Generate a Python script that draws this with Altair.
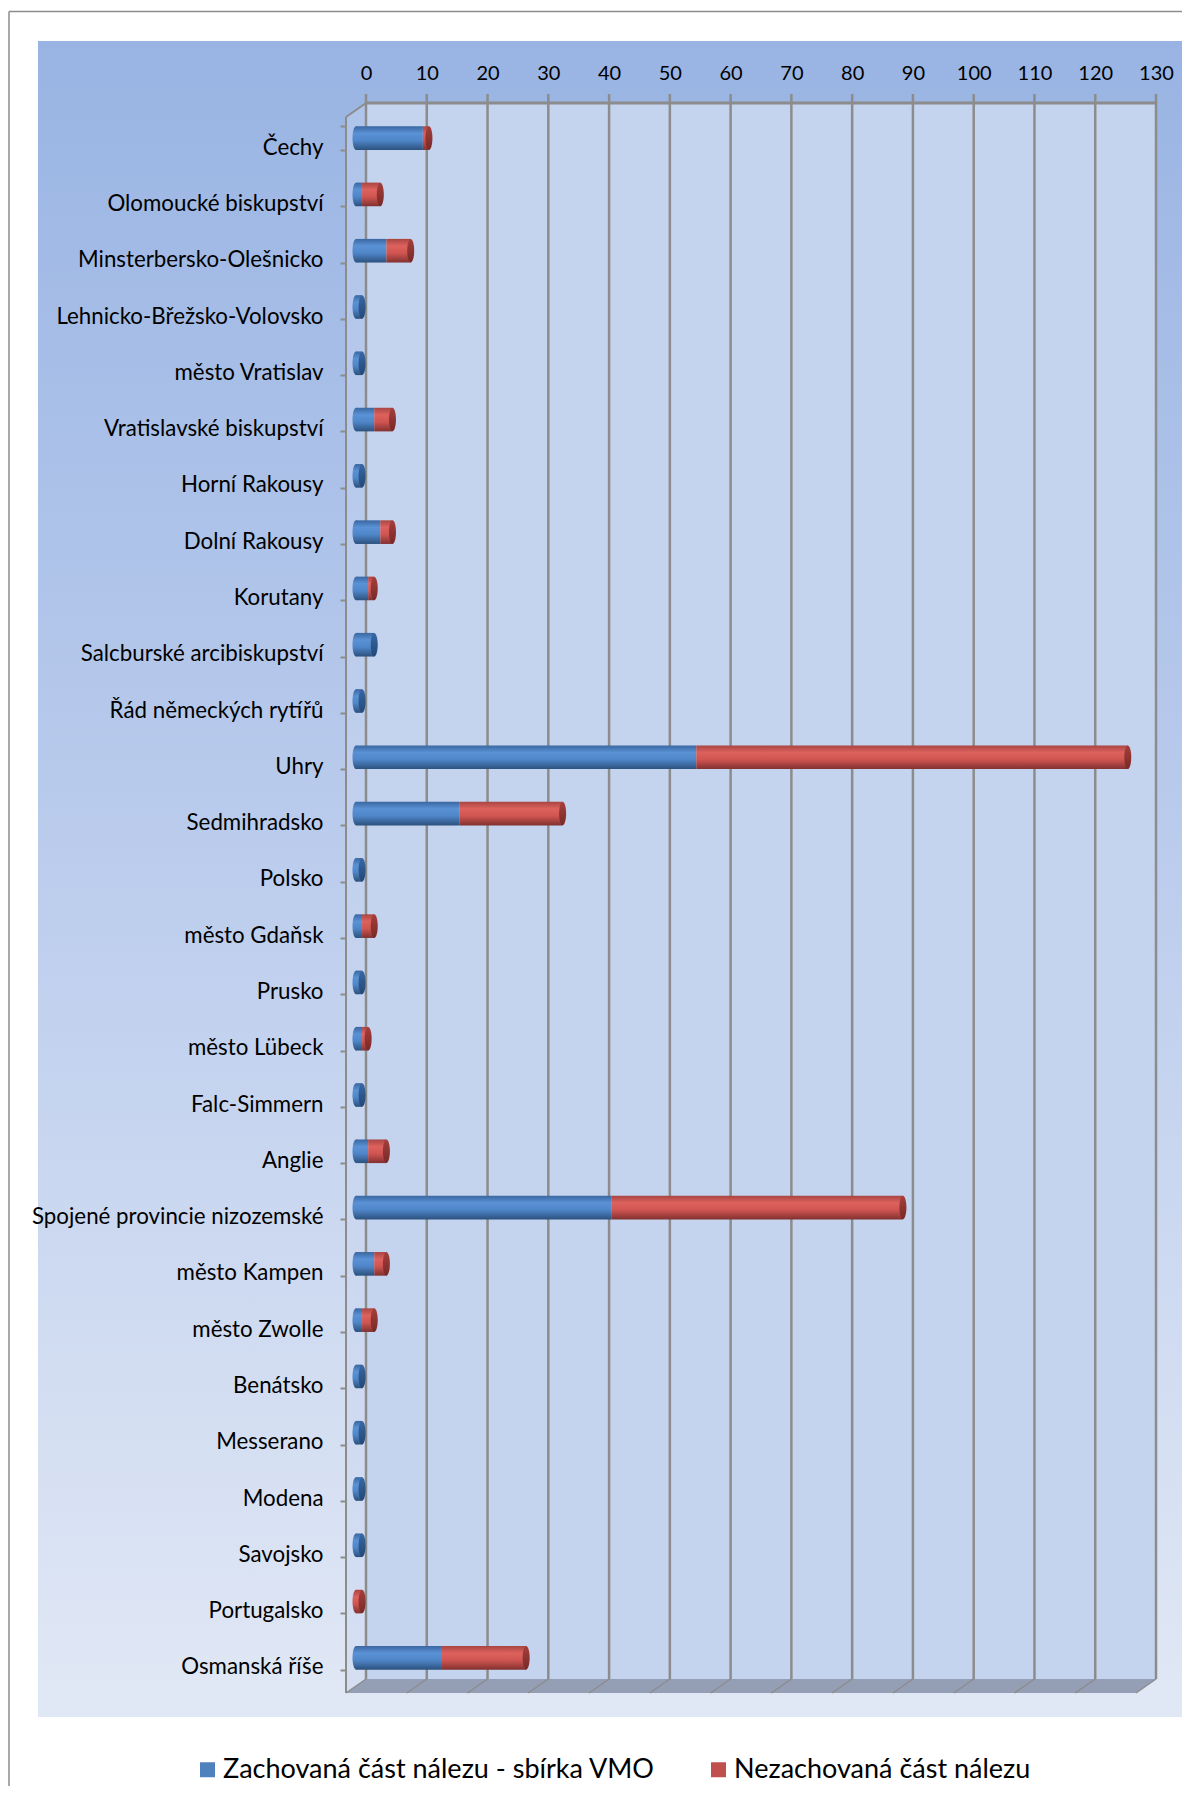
import altair as alt
import pandas as pd
import numpy as np

# ---------------- data ----------------
categories = [
    "Čechy", "Olomoucké biskupství", "Minsterbersko-Olešnicko",
    "Lehnicko-Břežsko-Volovsko", "město Vratislav", "Vratislavské biskupství",
    "Horní Rakousy", "Dolní Rakousy", "Korutany", "Salcburské arcibiskupství",
    "Řád německých rytířů", "Uhry", "Sedmihradsko", "Polsko", "město Gdaňsk",
    "Prusko", "město Lübeck", "Falc-Simmern", "Anglie",
    "Spojené provincie nizozemské", "město Kampen", "město Zwolle", "Benátsko",
    "Messerano", "Modena", "Savojsko", "Portugalsko", "Osmanská říše",
]
preserved = [11, 1, 5, 1, 1, 3, 1, 4, 2, 3, 1, 56, 17, 1, 1, 1, 1, 1, 2, 42, 3, 1, 1, 1, 1, 1, 0, 14]
lost = [1, 3, 4, 0, 0, 3, 0, 2, 1, 0, 0, 71, 17, 0, 2, 0, 1, 0, 3, 48, 2, 2, 0, 0, 0, 0, 1, 14]
tick_values = [0, 10, 20, 30, 40, 50, 60, 70, 80, 90, 100, 110, 120, 130]
series_names = ["Zachovaná část nálezu - sbírka VMO", "Nezachovaná část nálezu"]
series_colors = ["#4F81BD", "#C0504D"]

# ---------------- geometry ----------------
W, H = 790, 1576
DX, DY = 10, 7
FONT = "Lato"
GRID = "#8C8C8C"

df = pd.DataFrame({"cat": categories, "blue": preserved, "red": lost})
df["start"] = 0
df["total"] = df["blue"] + df["red"]
df["last"] = np.where(df["red"] > 0, "red", "blue")
df["first"] = np.where(df["blue"] > 0, "blue", "red")
ticks_df = pd.DataFrame({"v": tick_values})
single = alt.Data(values=[{"a": 1}])

xscale = alt.Scale(domain=[0, 130], nice=False, zero=True)
yscale = alt.Scale(domain=categories, paddingInner=0.58, paddingOuter=0.29)


def vgrad(stops):
    return alt.Gradient(
        gradient="linear", x1=0, x2=0, y1=0, y2=1,
        stops=[alt.GradientStop(offset=o, color=c) for o, c in stops],
    )


blue_grad = vgrad([(0, "#3A67A1"), (0.3, "#5A92D6"), (0.6, "#4F86C8"), (1, "#2C517E")])
red_grad = vgrad([(0, "#A94542"), (0.3, "#DD625E"), (0.6, "#D05551"), (1, "#813130")])
blue_cap = vgrad([(0, "#3868A3"), (1, "#234877")])
red_cap = vgrad([(0, "#A53F3C"), (1, "#782927")])
bg_grad = vgrad([(0, "#99B4E3"), (0.5, "#BCCDED"), (1, "#E1E8F5")])
wall_grad = vgrad([(0, "#AFC4EA"), (1, "#D6DFF2")])

ELL = "M 0 -11.8 A 3.5 11.8 0 1 1 0 11.8 A 3.5 11.8 0 1 1 0 -11.8 Z"

top_axis = alt.Axis(
    orient="top", values=tick_values, title=None, ticks=False, domain=False,
    grid=False, labelFont=FONT, labelFontSize=20, labelColor="#000000",
    labelPadding=20, offset=DY, labelOffset=DX, labelFlush=False, labelOverlap=False,
    zindex=2,
)
y_axis = alt.Axis(
    orient="left", title=None, domain=False, ticks=True, tickBand="extent",
    tickSize=6, tickColor=GRID, tickWidth=2, offset=DX, tickOffset=DY,
    labelFont=FONT, labelFontSize=22.3, labelColor="#000000", labelPadding=17,
    labelOffset=9, labelLimit=400, grid=False, zindex=2,
    labelExpr="indexof(['město Vratislav','město Gdaňsk'], datum.value) >= 0 ? datum.value + '\u00a0' : datum.value",
)


def X(field):
    return alt.X(f"{field}:Q", scale=xscale, axis=top_axis, title=None)


def Y():
    return alt.Y("cat:N", scale=yscale, axis=y_axis, title=None)


# ---------------- decoration ----------------
bg = alt.Chart(single).mark_rect(fill=bg_grad, strokeWidth=0).encode(
    x=alt.value(-318), x2=alt.value(827), y=alt.value(-69), y2=alt.value(1607)
)
frame_top = alt.Chart(single).mark_rule(stroke=GRID, strokeWidth=1.5).encode(
    x=alt.value(-347), x2=alt.value(860), y=alt.value(-98.5)
)
frame_left = alt.Chart(single).mark_rule(stroke=GRID, strokeWidth=1.5).encode(
    x=alt.value(-347), y=alt.value(-98.5), y2=alt.value(1720)
)
back_wall = alt.Chart(single).mark_rect(fill="#C5D4EE", strokeWidth=0).encode(
    x=alt.value(DX), x2=alt.value(W + DX), y=alt.value(-DY), y2=alt.value(H - DY)
)
left_wall = alt.Chart(single).mark_point(
    shape=f"M {-DX} {DY} L {DX} {-DY} L {DX} {H - DY} L {-DX} {H + DY} Z",
    size=4, filled=True, fill=wall_grad, opacity=1, strokeWidth=0,
).encode(x=alt.value(0), y=alt.value(0))
floor = alt.Chart(single).mark_point(
    shape=f"M {-DX} {H + DY} L {DX} {H - DY} L {W + DX} {H - DY} L {W - DX} {H + DY} Z",
    size=4, filled=True, fill="#949FB6", opacity=1, strokeWidth=0,
).encode(x=alt.value(0), y=alt.value(0))
gridlines = alt.Chart(ticks_df).mark_rule(xOffset=DX, stroke=GRID, strokeWidth=2.5).encode(
    x=X("v"), y=alt.value(-DY - 9), y2=alt.value(H - DY)
)
floor_lines = alt.Chart(ticks_df).mark_rule(
    xOffset=DX, x2Offset=-DX, stroke=GRID, strokeWidth=1.5
).encode(
    x=X("v"), x2="v:Q",
    y=alt.value(H - DY), y2=alt.value(H + DY),
)
top_edge = alt.Chart(single).mark_rule(stroke=GRID, strokeWidth=3).encode(
    x=alt.value(DX - 1), x2=alt.value(W + DX + 1), y=alt.value(-DY)
)
front_edge = alt.Chart(single).mark_rule(stroke=GRID, strokeWidth=2).encode(
    x=alt.value(-DX), y=alt.value(DY), y2=alt.value(H + DY)
)
top_diag = alt.Chart(single).mark_rule(stroke=GRID, strokeWidth=2).encode(
    x=alt.value(-DX), x2=alt.value(DX), y=alt.value(DY), y2=alt.value(-DY)
)

# ---------------- bars ----------------
base = alt.Chart(df)
blue_bars = base.transform_filter("datum.blue > 0").mark_bar(fill=blue_grad, strokeWidth=0).encode(
    x=X("start"), x2="blue:Q", y=Y(),
)
red_bars = base.transform_filter("datum.red > 0").mark_bar(fill=red_grad, strokeWidth=0).encode(
    x=X("blue"), x2="total:Q", y=Y(),
)


def cap(filter_expr, field, fill):
    return base.transform_filter(filter_expr).mark_point(
        shape=ELL, size=4, filled=True, fill=fill, opacity=1, strokeWidth=0
    ).encode(x=X(field), y=Y())


left_blue = cap("datum.first == 'blue'", "start", blue_grad)
left_red = cap("datum.first == 'red'", "start", red_grad)
right_blue = cap("datum.last == 'blue'", "total", blue_cap)
right_red = cap("datum.last == 'red'", "total", red_cap)

legend_layer = alt.Chart(pd.DataFrame({"series": series_names})).mark_square(
    opacity=0, size=225
).encode(
    color=alt.Color(
        "series:N",
        scale=alt.Scale(domain=series_names, range=series_colors),
        legend=alt.Legend(
            orient="none", legendX=-162, legendY=1646, direction="horizontal",
            title=None, symbolType="square", symbolSize=225, symbolOpacity=1,
            symbolStrokeWidth=0, labelFont=FONT, labelFontSize=27,
            labelColor="#000000", labelOffset=2, columnPadding=50,
            labelLimit=1000, padding=0,
        ),
    )
)

chart = alt.layer(
    bg, frame_top, frame_left, back_wall, left_wall, floor, gridlines,
    floor_lines, top_edge, front_edge, top_diag,
    blue_bars, red_bars, left_blue, left_red, right_blue, right_red,
    legend_layer,
).properties(
    width=W, height=H,
    autosize=alt.AutoSizeParams(type="none"),
    padding={"left": 348, "top": 102, "right": 36, "bottom": 100},
    background="#FFFFFF",
).configure_view(stroke=None, fill=None)

chart.save("out.html", embed_options={"renderer": "svg", "actions": False})
